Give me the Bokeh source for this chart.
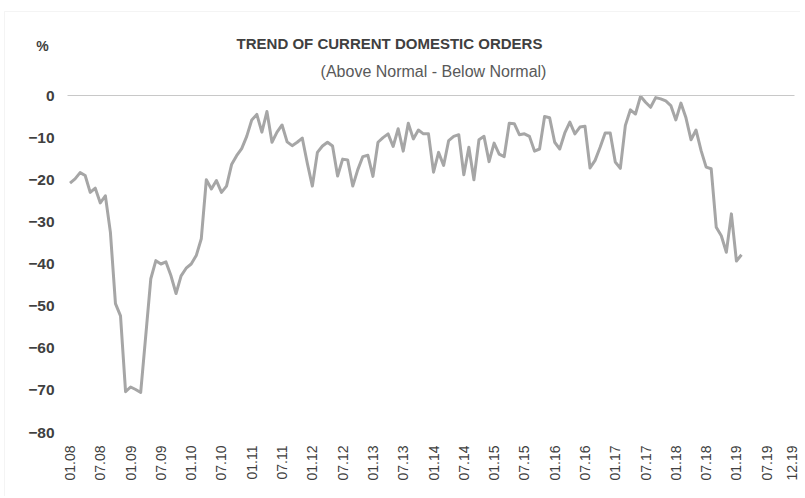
import math
from bokeh.plotting import figure
from bokeh.models import Range1d, FixedTicker, Label, BoxAnnotation, LinearAxis
from bokeh.embed import file_html
from bokeh.resources import INLINE

# ---- data (monthly, 01.08 .. 02.19) ----
orders = [
    -20.8, -19.8, -18.3, -19.0, -23.0, -22.0, -25.5, -23.8, -32.5, -49.4, -52.3, -70.3,
    -69.2, -69.8, -70.5, -57.0, -43.5, -39.2, -40.0, -39.5, -42.8, -47.0, -42.8, -41.0,
    -40.0, -38.0, -34.0, -20.0, -22.2, -20.2, -23.0, -21.5, -16.4, -14.3, -12.6, -9.7,
    -5.8, -4.5, -8.7, -3.8, -11.1, -8.7, -7.0, -11.0, -11.9, -11.1, -10.1, -16.1,
    -21.5, -13.5, -12.0, -11.1, -12.0, -19.1, -15.1, -15.3, -21.5, -17.6, -14.5, -14.2,
    -19.2, -11.1, -10.0, -9.1, -12.1, -7.9, -13.2, -6.6, -10.3, -8.2, -9.1, -9.1,
    -18.2, -13.5, -16.6, -10.7, -9.7, -9.3, -18.8, -12.3, -20.0, -10.5, -9.7, -15.7,
    -11.3, -13.9, -14.5, -6.6, -6.7, -9.3, -9.1, -9.7, -13.2, -12.7, -5.0, -5.3,
    -11.1, -12.7, -8.9, -6.3, -9.1, -7.5, -7.3, -17.2, -15.4, -12.3, -8.9, -8.9,
    -15.8, -17.3, -7.1, -3.4, -4.4, -0.2, -1.6, -2.8, -0.5, -0.8, -1.3, -2.4,
    -5.8, -1.8, -5.3, -10.5, -8.2, -13.1, -17.0, -17.4, -31.3, -33.3, -37.2, -28.1,
    -39.3, -37.8,
]
start_year = 2008
tick_labels = ["01.08", "07.08", "01.09", "07.09", "01.10", "07.10", "01.11", "07.11",
               "01.12", "07.12", "01.13", "07.13", "01.14", "07.14", "01.15", "07.15",
               "01.16", "07.16", "01.17", "07.17", "01.18", "07.18", "01.19", "07.19",
               "12.19"]
y_ticks = [0, -10, -20, -30, -40, -50, -60, -70, -80]
y_min, y_max = -80, 0

title_text = "TREND OF CURRENT DOMESTIC ORDERS"
subtitle_text = "(Above Normal - Below Normal)"
unit_text = "%"

months = list(range(len(orders)))
def month_index(lab):
    mm, yy = lab.split(".")
    return (2000 + int(yy) - start_year) * 12 + int(mm) - 1
tick_idx = [month_index(l) for l in tick_labels]
n_cat = tick_idx[-1] + 1
x_lo, x_hi = -0.5, n_cat - 0.5

LINE = "#A6A6A6"
TXT = "#404040"
FONT = "Liberation Sans"

# plot-area placement on the page (pixels)
FL, FR, FT, FB = 67, 794, 95, 432
W, H = 800, 496
PXX = (FR - FL) / (x_hi - x_lo)
PXY = (FB - FT) / (y_max - y_min)

# the frame covers the whole canvas; ranges are widened so that the
# chart's plot area lands at FL..FR / FT..FB
p = figure(width=W, height=H, output_backend="svg", toolbar_location=None,
           x_range=Range1d(x_lo - FL / PXX, x_hi + (W - FR) / PXX),
           y_range=Range1d(y_min - (H - FB) / PXY, y_max + FT / PXY),
           x_axis_location=None, y_axis_location=None,
           min_border=0)
p.outline_line_color = None
p.xgrid.visible = False
p.ygrid.visible = False

def dx(page_x):
    return x_lo + (page_x - FL) / PXX
def dy(page_y):
    return y_max - (page_y - FT) / PXY

# outer chart border
p.add_layout(BoxAnnotation(left=dx(4), top=dy(11), right=dx(W + 50), bottom=dy(H + 50),
                           fill_alpha=0, line_color="#D9D9D9", line_width=1))

# zero line (category axis crossing at 0)
zero_axis = LinearAxis(fixed_location=0, bounds=(x_lo, x_hi),
                       axis_line_color="#C8C8C8", axis_line_width=1,
                       major_tick_line_color=None, minor_tick_line_color=None,
                       major_label_text_font_size="0px")
zero_axis.ticker = FixedTicker(ticks=[])
p.add_layout(zero_axis, "below")

p.line(months, orders, line_color=LINE, line_width=3, line_join="round")

xa = LinearAxis(fixed_location=y_min)
xa.ticker = FixedTicker(ticks=tick_idx)
xa.major_label_overrides = {i: l for i, l in zip(tick_idx, tick_labels)}
xa.major_label_orientation = math.pi / 2
xa.axis_line_color = None
xa.major_tick_line_color = None
xa.minor_tick_line_color = None
xa.major_tick_out = 0
xa.major_label_standoff = 13
xa.major_label_text_font = FONT
xa.major_label_text_font_size = "14px"
xa.major_label_text_color = TXT
p.add_layout(xa, "below")

ya = LinearAxis(fixed_location=x_lo)
ya.ticker = FixedTicker(ticks=y_ticks)
ya.axis_line_color = None
ya.major_tick_line_color = None
ya.minor_tick_line_color = None
ya.major_tick_out = 0
ya.major_label_standoff = 13
ya.major_label_text_font = FONT
ya.major_label_text_font_style = "bold"
ya.major_label_text_font_size = "15.5px"
ya.major_label_text_color = TXT
p.add_layout(ya, "left")

p.add_layout(Label(x=dx(389), y=dy(42.5), text=title_text, text_align="center",
                   text_baseline="middle", text_font=FONT, text_font_style="bold",
                   text_font_size="15px", text_color=TXT))
p.add_layout(Label(x=dx(433), y=dy(71), text=subtitle_text, text_align="center",
                   text_baseline="middle", text_font=FONT,
                   text_font_size="16px", text_color="#595959"))
p.add_layout(Label(x=dx(42), y=dy(45.5), text=unit_text, text_align="center",
                   text_baseline="middle", text_font=FONT, text_font_style="bold",
                   text_font_size="14px", text_color=TXT))

open("out.html", "w").write(file_html(p, INLINE))
